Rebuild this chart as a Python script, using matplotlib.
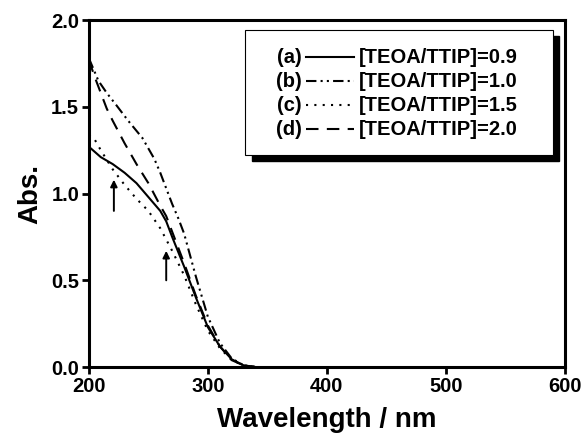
import matplotlib
matplotlib.use("Agg")
import matplotlib.pyplot as plt
from matplotlib.patches import Rectangle
from matplotlib.lines import Line2D

plt.rcParams['font.family'] = ['Liberation Sans', 'DejaVu Sans']
plt.rcParams['font.weight'] = 'bold'

# absorption spectra
wl_a = [200, 210, 220, 230, 240, 250, 260, 265, 270, 280, 290, 300, 310, 320, 330, 340]
abs_a = [1.27, 1.21, 1.17, 1.12, 1.06, 0.98, 0.90, 0.84, 0.75, 0.58, 0.40, 0.23, 0.12, 0.045, 0.01, 0.0]

wl_b = [200, 208, 215, 223, 233, 245, 255, 260, 265, 270, 275, 280, 290, 300, 310, 320, 330, 340]
abs_b = [1.78, 1.65, 1.58, 1.51, 1.42, 1.32, 1.20, 1.12, 1.03, 0.94, 0.86, 0.77, 0.52, 0.29, 0.14, 0.05, 0.01, 0.0]

wl_c = [200, 205, 210, 220, 230, 240, 250, 260, 270, 280, 290, 300, 310, 320, 330, 340]
abs_c = [1.34, 1.31, 1.25, 1.14, 1.05, 0.97, 0.90, 0.80, 0.67, 0.53, 0.36, 0.21, 0.11, 0.04, 0.01, 0.0]

wl_d = [200, 205, 210, 215, 220, 230, 240, 250, 260, 265, 270, 280, 290, 300, 310, 320, 330, 340]
abs_d = [1.77, 1.67, 1.58, 1.49, 1.42, 1.29, 1.17, 1.06, 0.93, 0.87, 0.78, 0.60, 0.41, 0.24, 0.12, 0.04, 0.01, 0.0]

tags = ['(a)', '(b)', '(c)', '(d)']
labels = ['[TEOA/TTIP]=0.9', '[TEOA/TTIP]=1.0', '[TEOA/TTIP]=1.5', '[TEOA/TTIP]=2.0']

# arrows marking shoulders (wavelength, start abs, end abs)
arrows = [(221, 0.90, 1.08), (265, 0.50, 0.67)]

styles = [
    dict(linestyle='-'),
    dict(linestyle=(0, (5, 2, 1, 2, 1, 2))),
    dict(linestyle=(0, (1, 3))),
    dict(linestyle=(0, (6, 4))),
]

fig = plt.figure(figsize=(5.81, 4.46), dpi=100)
ax = fig.add_axes([0.153, 0.177, 0.819, 0.778])

series = [(wl_a, abs_a), (wl_b, abs_b), (wl_c, abs_c), (wl_d, abs_d)]
for (x, y), st in zip(series, styles):
    ax.plot(x, y, color='black', lw=1.5, **st)

for x, y0, y1 in arrows:
    ax.annotate('', xy=(x, y1), xytext=(x, y0),
                arrowprops=dict(arrowstyle='-|>', color='black', lw=1.4,
                                mutation_scale=10, shrinkA=0, shrinkB=0))

ax.set_xlim(200, 600)
ax.set_ylim(0, 2.0)
ax.set_xticks([200, 300, 400, 500, 600])
ax.set_yticks([0.0, 0.5, 1.0, 1.5, 2.0])
ax.set_yticklabels(['0.0', '0.5', '1.0', '1.5', '2.0'])
for s in ax.spines.values():
    s.set_linewidth(2.2)
ax.tick_params(direction='out', length=5, width=2, labelsize=14.5, pad=2)
ax.set_xlabel('Wavelength / nm', fontsize=20, fontweight='bold', labelpad=8)
ax.set_ylabel('Abs.', fontsize=20, fontweight='bold', labelpad=6)

# hand-made legend box with shadow
bx0, by0, bw, bh = 0.329, 0.611, 0.646, 0.360
ax.add_patch(Rectangle((bx0 + 0.013, by0 - 0.018), bw, bh, transform=ax.transAxes,
                       facecolor='black', edgecolor='black', zorder=5, clip_on=False))
ax.add_patch(Rectangle((bx0, by0), bw, bh, transform=ax.transAxes,
                       facecolor='white', edgecolor='black', lw=0.8, zorder=6, clip_on=False))
row_y = [0.893, 0.824, 0.755, 0.686]
for yy, tag, lab, st in zip(row_y, tags, labels, styles):
    ax.text(0.447, yy, tag, transform=ax.transAxes, ha='right', va='center',
            fontsize=14.5, fontweight='bold', zorder=7)
    ax.add_line(Line2D([0.457, 0.558], [yy, yy], transform=ax.transAxes,
                       color='black', lw=1.5, zorder=7, **st))
    ax.text(0.568, yy, lab, transform=ax.transAxes, ha='left', va='center',
            fontsize=14.5, fontweight='bold', zorder=7)

fig.savefig('out.png', dpi=100)
